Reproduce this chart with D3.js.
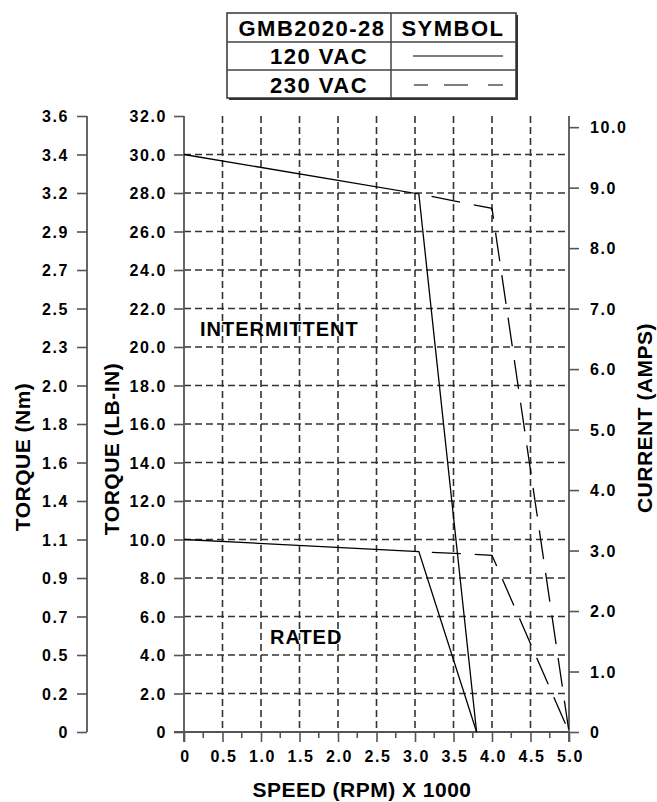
<!DOCTYPE html>
<html>
<head>
<meta charset="utf-8">
<script src="https://cdn.jsdelivr.net/npm/d3@7"></script>
<style>
  body { margin: 0; background: #fff; }
  svg { display: block; font-family: "Liberation Sans", Arial, sans-serif; font-weight: bold; }
</style>
</head>
<body>
<div id="chart"></div>
<script>
// speed (RPM x 1000) axis
const speedTicks = [0, 0.5, 1.0, 1.5, 2.0, 2.5, 3.0, 3.5, 4.0, 4.5, 5.0];
const speedLabels = ["0", "0.5", "1.0", "1.5", "2.0", "2.5", "3.0", "3.5", "4.0", "4.5", "5.0"];

// torque axes (lb-in and the matching Nm labels)
const lbinTicks = [0, 2, 4, 6, 8, 10, 12, 14, 16, 18, 20, 22, 24, 26, 28, 30, 32];
const lbinLabels = ["0", "2.0", "4.0", "6.0", "8.0", "10.0", "12.0", "14.0", "16.0",
                    "18.0", "20.0", "22.0", "24.0", "26.0", "28.0", "30.0", "32.0"];
const nmLabels = ["0", "0.2", "0.5", "0.7", "0.9", "1.1", "1.4", "1.6", "1.8",
                  "2.0", "2.3", "2.5", "2.7", "2.9", "3.2", "3.4", "3.6"];

// current axis
const ampTicks = [0, 1, 2, 3, 4, 5, 6, 7, 8, 9, 10];
const ampLabels = ["0", "1.0", "2.0", "3.0", "4.0", "5.0", "6.0", "7.0", "8.0", "9.0", "10.0"];

// 120 VAC curves (solid)
const speed120 = [0, 3.05, 3.8];
const inter120 = [30.0, 27.95, 0];
const rated120 = [10.0, 9.37, 0];

// 230 VAC curves (dashed, after they leave the 120 VAC line)
const speed230 = [3.05, 4.0, 5.0];
const inter230 = [27.95, 27.2, 0];
const rated230 = [9.37, 9.18, 0];

// legend rows
const legendHead = ["GMB2020-28", "SYMBOL"];
const legendRows = ["120 VAC", "230 VAC"];

const width = 657, height = 802;
const svg = d3.select("#chart").append("svg")
    .attr("width", width)
    .attr("height", height);

// scales
const x = d3.scaleLinear().domain([0, 5]).range([184, 569]);
const y = d3.scaleLinear().domain([0, 32]).range([732, 116]);
const nm = d3.scaleLinear().domain([0, 3.6]).range([732, 116]);
const amps = d3.scaleLinear().domain([0, 10]).range([y(0), y(31.42)]);

const axisColor = "#555";
const gridColor = "#333";

// grid
const grid = svg.append("g");
grid.selectAll("line.v")
    .data(speedTicks.filter(d => d > 0 && d < 5))
    .enter().append("line")
    .attr("x1", d => x(d)).attr("x2", d => x(d))
    .attr("y1", y(32)).attr("y2", y(0))
    .attr("stroke", gridColor).attr("stroke-width", 1.6)
    .attr("stroke-dasharray", "7,4");
grid.selectAll("line.h")
    .data(lbinTicks.filter(d => d > 0 && d < 32))
    .enter().append("line")
    .attr("x1", x(0)).attr("x2", x(5))
    .attr("y1", d => y(d)).attr("y2", d => y(d))
    .attr("stroke", gridColor).attr("stroke-width", 1.6)
    .attr("stroke-dasharray", "7,4");

// helper to style an axis group
function styleAxis(g, anchor, dx, dy){
    g.select(".domain").remove();
    g.selectAll(".tick line").attr("stroke", axisColor).attr("stroke-width", 1.6);
    g.selectAll(".tick text")
        .attr("fill", "#000")
        .style("font-size", "16px")
        .style("font-weight", "bold")
        .style("letter-spacing", "1.6px")
        .attr("text-anchor", anchor)
        .attr("dx", dx)
        .attr("dy", dy);
}

// Nm axis (far left)
const nmValues = lbinTicks.map(d => d * 3.6 / 32);
const gNm = svg.append("g").attr("transform", "translate(87,0)")
    .call(d3.axisLeft(nm).tickValues(nmValues).tickSize(10).tickPadding(10)
        .tickFormat((d, i) => nmLabels[i]));
styleAxis(gNm, "end", 2, "0.35em");
gNm.append("line").attr("x1", 0).attr("x2", 0).attr("y1", nm(3.6)).attr("y2", nm(0))
    .attr("stroke", axisColor).attr("stroke-width", 1.8);

// lb-in axis
const gLb = svg.append("g").attr("transform", "translate(" + x(0) + ",0)")
    .call(d3.axisLeft(y).tickValues(lbinTicks).tickSize(10).tickPadding(9)
        .tickFormat((d, i) => lbinLabels[i]));
styleAxis(gLb, "end", 2, "0.35em");
gLb.append("line").attr("x1", 0).attr("x2", 0).attr("y1", y(32)).attr("y2", y(0) + 10)
    .attr("stroke", axisColor).attr("stroke-width", 1.8);

// current axis (right)
const gA = svg.append("g").attr("transform", "translate(" + x(5) + ",0)")
    .call(d3.axisRight(amps).tickValues(ampTicks).tickSize(10).tickPadding(11)
        .tickFormat((d, i) => ampLabels[i]));
styleAxis(gA, "start", 0, "0.35em");
gA.append("line").attr("x1", 0).attr("x2", 0).attr("y1", y(32)).attr("y2", y(0) + 10)
    .attr("stroke", axisColor).attr("stroke-width", 1.8);

// speed axis (bottom) with minor ticks
const gX = svg.append("g").attr("transform", "translate(0," + y(0) + ")")
    .call(d3.axisBottom(x).tickValues(speedTicks).tickSize(10).tickPadding(9)
        .tickFormat((d, i) => speedLabels[i]));
styleAxis(gX, "middle", 1, "0.71em");
gX.append("line").attr("x1", x(0) - 10).attr("x2", x(5)).attr("y1", 0).attr("y2", 0)
    .attr("stroke", axisColor).attr("stroke-width", 1.8);
gX.selectAll("line.minor")
    .data(speedTicks.slice(0, -1).map(d => d + 0.25))
    .enter().append("line")
    .attr("x1", d => x(d)).attr("x2", d => x(d))
    .attr("y1", 0).attr("y2", 6)
    .attr("stroke", axisColor).attr("stroke-width", 1.6);

// curves
const line = d3.line().x(d => x(d[0])).y(d => y(d[1]));
function curve(sp, tq, dash){
    const p = svg.append("path")
        .datum(sp.map((s, i) => [s, tq[i]]))
        .attr("d", line)
        .attr("fill", "none")
        .attr("stroke", "#000")
        .attr("stroke-width", 1.3)
        .attr("stroke-linejoin", "miter");
    if(dash) p.attr("stroke-dasharray", "29,14").attr("stroke-dashoffset", 30);
}
curve(speed120, inter120, false);
curve(speed120, rated120, false);
curve(speed230, inter230, true);
curve(speed230, rated230, true);

// region labels
svg.append("text").attr("x", 200).attr("y", 336)
    .style("font-size", "20px").style("letter-spacing", "1px")
    .text("INTERMITTENT");
svg.append("text").attr("x", 270).attr("y", 644)
    .style("font-size", "20px").style("letter-spacing", "1px")
    .text("RATED");

// axis titles
function title(tx, ty, rot, str){
    svg.append("text")
        .attr("transform", "translate(" + tx + "," + ty + ")" + (rot ? " rotate(" + rot + ")" : ""))
        .attr("text-anchor", "middle")
        .style("font-size", "21px")
        .style("letter-spacing", "0.5px")
        .text(str);
}
title(29.5, 457, -90, "TORQUE (Nm)");
title(118.5, 449, -90, "TORQUE (LB-IN)");
title(652, 418, -90, "CURRENT (AMPS)");
title(362, 797, 0, "SPEED (RPM) X 1000");

// legend table
const lg = svg.append("g");
const lx0 = 227, lx1 = 391, lx2 = 516, ly0 = 13, ly1 = 42, ly2 = 70, ly3 = 98;
lg.append("rect").attr("x", lx0 + 2).attr("y", ly0 + 2)
    .attr("width", lx2 - lx0).attr("height", ly3 - ly0).attr("fill", "#333");
lg.append("rect").attr("x", lx0).attr("y", ly0)
    .attr("width", lx2 - lx0).attr("height", ly3 - ly0)
    .attr("fill", "#fff").attr("stroke", "#333").attr("stroke-width", 1.5);
[ly1, ly2].forEach(v => lg.append("line").attr("x1", lx0).attr("x2", lx2)
    .attr("y1", v).attr("y2", v).attr("stroke", "#444").attr("stroke-width", 1.5));
lg.append("line").attr("x1", lx1).attr("x2", lx1).attr("y1", ly0).attr("y2", ly3)
    .attr("stroke", "#444").attr("stroke-width", 1.5);

function cellText(cx, by, str){
    lg.append("text").attr("x", cx).attr("y", by)
        .attr("text-anchor", "middle")
        .style("font-size", "22px").style("letter-spacing", "1.5px")
        .text(str);
}
cellText(312, 36, legendHead[0]);
cellText(453, 36, legendHead[1]);
cellText(319, 64, legendRows[0]);
cellText(319, 93, legendRows[1]);
lg.append("line").attr("x1", 413).attr("x2", 503).attr("y1", 56).attr("y2", 56)
    .attr("stroke", "#000").attr("stroke-width", 1.2);
lg.append("line").attr("x1", 414).attr("x2", 503).attr("y1", 85).attr("y2", 85)
    .attr("stroke", "#000").attr("stroke-width", 1.2)
    .attr("stroke-dasharray", "14,16,24,20,15");
</script>
</body>
</html>
